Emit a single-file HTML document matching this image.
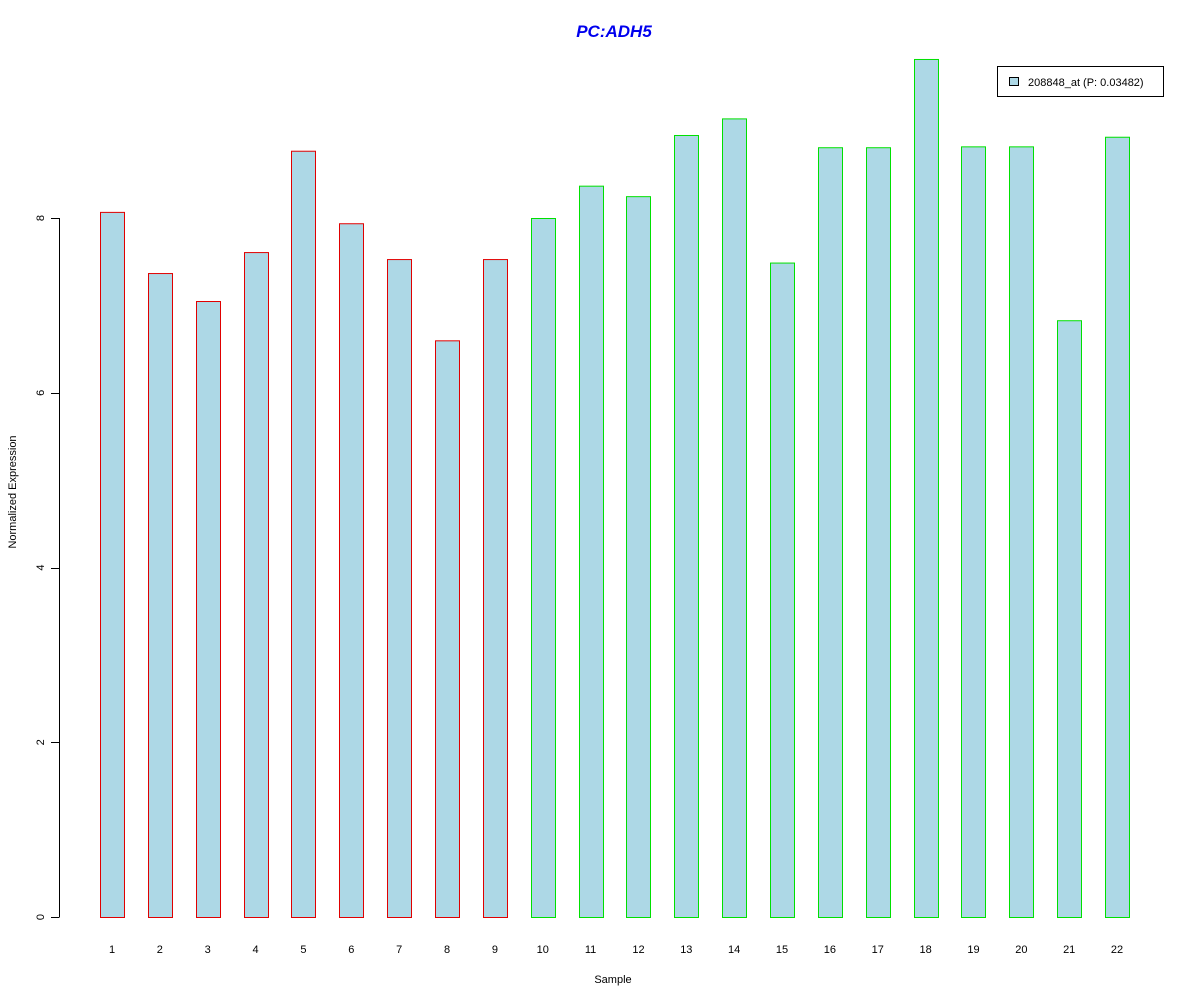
<!DOCTYPE html>
<html><head><meta charset="utf-8"><style>
html,body{margin:0;padding:0;background:#fff;}
svg{display:block;font-family:"Liberation Sans",Arial,sans-serif;}
</style></head><body>
<svg id="chart" width="1200" height="1000">
<text x="614" y="37" text-anchor="middle" font-size="17" font-weight="bold" font-style="italic" fill="#0000ee">PC:ADH5</text>
<text x="613" y="983" text-anchor="middle" font-size="11">Sample</text>
<text transform="translate(16,492) rotate(-90)" text-anchor="middle" font-size="11">Normalized Expression</text>
<g id="yaxis"></g>
<g id="bars"></g>
<g id="xlabels"></g>
<g>
<rect x="997.5" y="66.5" width="166" height="30" fill="#fff" stroke="#000"/>
<rect x="1009.5" y="77.5" width="9" height="8" fill="#add8e6" stroke="#000"/>
<text x="1028" y="86" font-size="11">208848_at (P: 0.03482)</text>
</g>
</svg>
<script>
const categories=["1","2","3","4","5","6","7","8","9","10","11","12","13","14","15","16","17","18","19","20","21","22"];
const values=[8.07,7.37,7.05,7.61,8.77,7.94,7.53,6.60,7.53,8.00,8.37,8.25,8.95,9.14,7.49,8.81,8.81,9.82,8.82,8.82,6.83,8.93];
const groups=["r","r","r","r","r","r","r","r","r","g","g","g","g","g","g","g","g","g","g","g","g","g"];
const yTicks=[0,2,4,6,8];
const NS="http://www.w3.org/2000/svg";
const y0=917, perUnit=87.375;
function yS(v){return y0-v*perUnit;}
function xS(i){return 112+i*47.86;}
const bw=24;
const bars=document.getElementById('bars');
const xl=document.getElementById('xlabels');
values.forEach((v,i)=>{
  const r=document.createElementNS(NS,'rect');
  r.setAttribute('x',Math.round(xS(i)-bw/2)+0.5);
  r.setAttribute('y',yS(v)+0.5);
  r.setAttribute('width',bw);
  r.setAttribute('height',y0-yS(v));
  r.setAttribute('fill','#add8e6');
  r.setAttribute('stroke',groups[i]==='r'?'#e00000':'#00e000');
  
  
  bars.appendChild(r);
  const t=document.createElementNS(NS,'text');
  t.setAttribute('x',xS(i));
  t.setAttribute('y',953);
  t.setAttribute('text-anchor','middle');
  t.setAttribute('font-size','11');
  t.textContent=categories[i];
  
  
  xl.appendChild(t);
});
const ya=document.getElementById('yaxis');
const ln=document.createElementNS(NS,'line');
ln.setAttribute('x1',59.5);ln.setAttribute('x2',59.5);
ln.setAttribute('y1',yS(yTicks[0]));ln.setAttribute('y2',yS(yTicks[yTicks.length-1]));
ln.setAttribute('stroke','#000');


ya.appendChild(ln);
yTicks.forEach(v=>{
  const tk=document.createElementNS(NS,'line');
  tk.setAttribute('x1',51);tk.setAttribute('x2',59.5);
  tk.setAttribute('y1',Math.round(yS(v))+0.5);tk.setAttribute('y2',Math.round(yS(v))+0.5);
  tk.setAttribute('stroke','#000');
  
  
  ya.appendChild(tk);
  const t=document.createElementNS(NS,'text');
  t.setAttribute('transform','translate(44,'+yS(v)+') rotate(-90)');
  t.setAttribute('text-anchor','middle');
  t.setAttribute('font-size','11');
  t.textContent=String(v);
  
  
  ya.appendChild(t);
});
</script>
</body></html>
